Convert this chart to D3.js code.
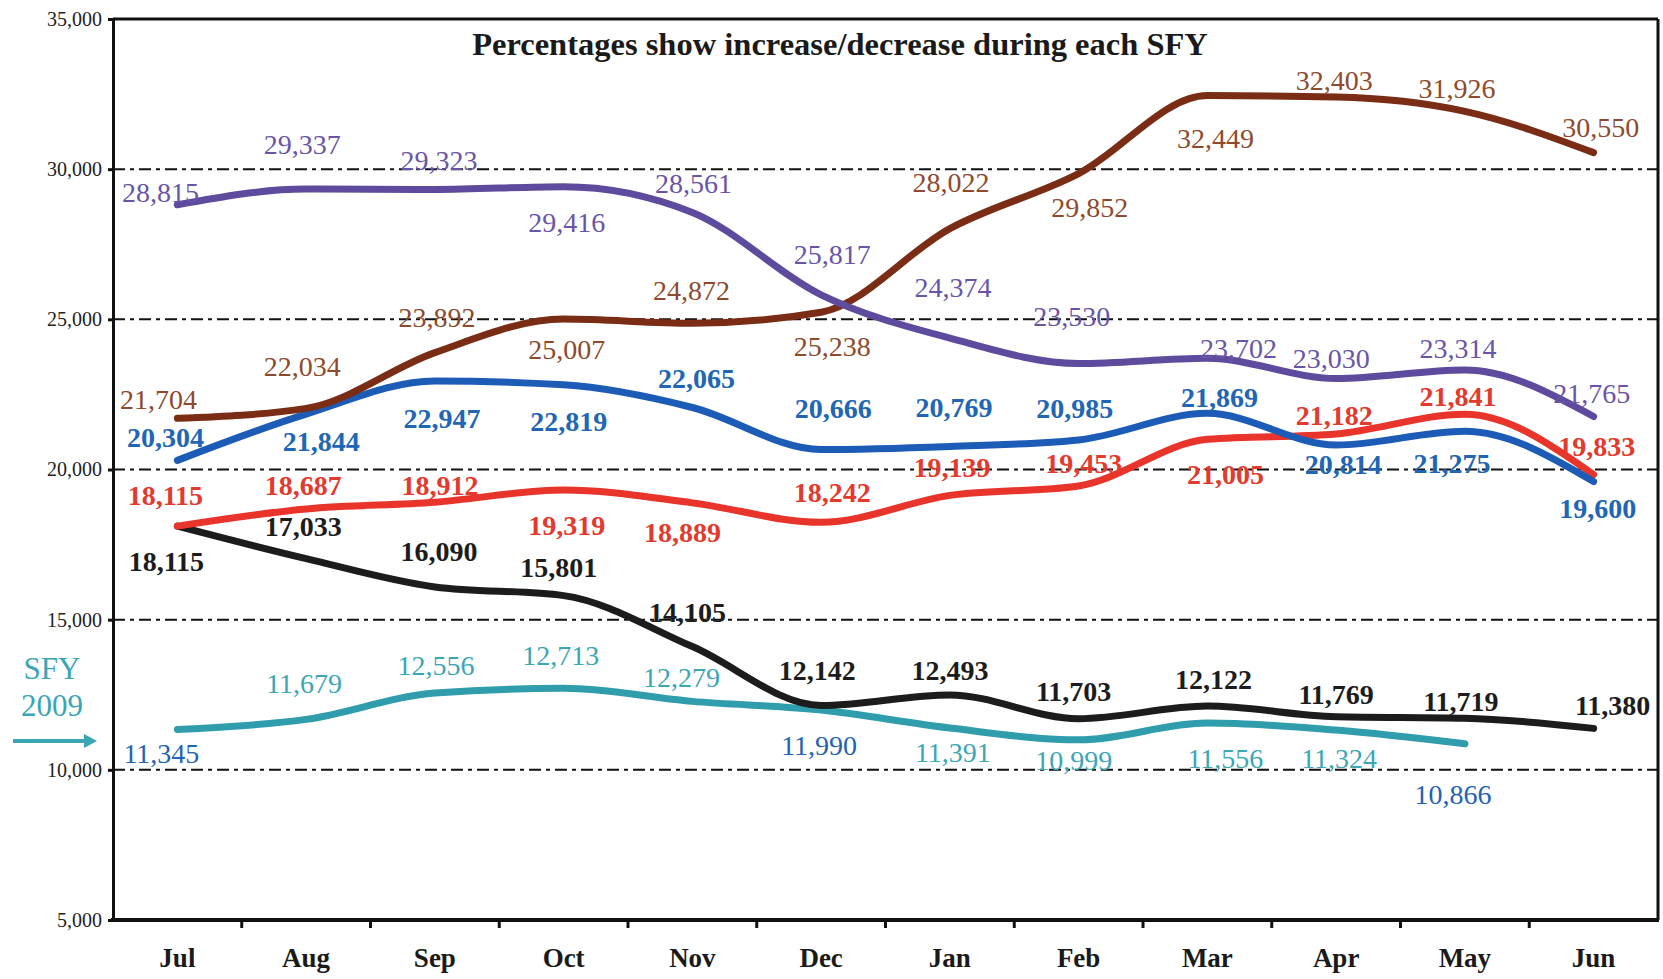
<!DOCTYPE html>
<html>
<head>
<meta charset="utf-8">
<script src="https://cdn.jsdelivr.net/npm/d3@7"></script>
<style>
	body { margin: 0; background: #ffffff; }
	svg { display: block; }
	text { font-family: 'Liberation Serif', 'DejaVu Serif', serif; }
</style>
</head>
<body>
<div id="viz"></div>
<script>
const MONTHS = ['Jul', 'Aug', 'Sep', 'Oct', 'Nov', 'Dec', 'Jan', 'Feb', 'Mar', 'Apr', 'May', 'Jun']
const Y_TICKS = [5000, 10000, 15000, 20000, 25000, 30000, 35000]
const GRID_TICKS = [10000, 15000, 20000, 25000, 30000]

const TITLE = 'Percentages show increase/decrease during each SFY'

// monthly counts, one list per fiscal year line
const sfy_cyan = [11345, 11679, 12556, 12713, 12279, 11990, 11391, 10999, 11556, 11324, 10866]
const sfy_black = [18115, 17033, 16090, 15801, 14105, 12142, 12493, 11703, 12122, 11769, 11719, 11380]
const sfy_red = [18115, 18687, 18912, 19319, 18889, 18242, 19139, 19453, 21005, 21182, 21841, 19833]
const sfy_blue = [20304, 21844, 22947, 22819, 22065, 20666, 20769, 20985, 21869, 20814, 21275, 19600]
const sfy_brown = [21704, 22034, 23892, 25007, 24872, 25238, 28022, 29852, 32449, 32403, 31926, 30550]
const sfy_purple = [28815, 29337, 29323, 29416, 28561, 25817, 24374, 23530, 23702, 23030, 23314, 21765]

// label placement (pixels, relative to the point)
const series = [
	{
		values: sfy_cyan, line: '#2f9dac', text: '#3ba6b6', weight: 400,
		textAlt: { 0: '#2463b3', 5: '#2463b3', 10: '#2463b3' },
		dx: [-16, -2, 1, -3, -11, -2, 3, -5, 18, 3, -12],
		dy: [24, -36, -28, -33, -24, 35, 24, 20, 35, 28, 50]
	},
	{
		values: sfy_black, line: '#1c1c1c', text: '#1c1c1c', weight: 700,
		dx: [-11, -3, 4, -5, -5, -4, 0, -5, 6, 0, -4, 19],
		dy: [35, -32, -36, -28, -34, -35, -25, -27, -27, -23, -17, -23]
	},
	{
		values: sfy_red, line: '#e8342a', text: '#e33a2e', weight: 700,
		dx: [-12, -3, 5, 3, -10, 11, 2, 5, 18, -2, -7, 3],
		dy: [-31, -24, -17, 35, 29, -30, -28, -23, 35, -19, -18, -28]
	},
	{
		values: sfy_blue, line: '#1d5cb6', text: '#2166b5', weight: 700,
		dx: [-12, 15, 7, 5, 4, 12, 4, -4, 12, 7, -13, 4],
		dy: [-23, 27, 37, 36, -29, -41, -39, -32, -16, 19, 32, 27]
	},
	{
		values: sfy_brown, line: '#7a2d14', text: '#8e4a2c', weight: 400,
		dx: [-19, -4, 2, 3, -1, 11, 1, 11, 8, -2, -8, 7],
		dy: [-19, -42, -35, 30, -33, 34, -46, 34, 43, -17, -23, -25]
	},
	{
		values: sfy_purple, line: '#5f4b9e', text: '#6955a8', weight: 400,
		dx: [-17, -4, 4, 3, 1, 11, 3, -7, 31, -5, -7, -2],
		dy: [-13, -45, -29, 35, -29, -41, -51, -47, -10, -20, -22, -23]
	}
]

const WIDTH = 1663
const HEIGHT = 979
const LEFT = 113
const RIGHT = 1658
const TOP = 19
const BOTTOM = 920

const svg = d3
	.select('#viz')
	.append('svg')
	.attr('width', WIDTH)
	.attr('height', HEIGHT)

const x = d3.scaleBand().domain(MONTHS).range([LEFT, RIGHT]).padding(0)
const cx = (i) => x(MONTHS[i]) + x.bandwidth() / 2
const y = d3.scaleLinear().domain([5000, 35000]).range([BOTTOM, TOP])

// dashed grid
svg.append('g')
	.selectAll('line')
	.data(GRID_TICKS)
	.enter()
	.append('line')
	.attr('x1', LEFT)
	.attr('x2', RIGHT)
	.attr('y1', (d) => y(d))
	.attr('y2', (d) => y(d))
	.attr('stroke', '#111')
	.attr('stroke-width', 2)
	.attr('stroke-dasharray', '12 5 4 5')

// frame: top and right
svg.append('line')
	.attr('x1', LEFT).attr('x2', RIGHT)
	.attr('y1', y(35000)).attr('y2', y(35000))
	.attr('stroke', '#111').attr('stroke-width', 3)
svg.append('line')
	.attr('x1', RIGHT).attr('x2', RIGHT)
	.attr('y1', y(35000)).attr('y2', BOTTOM)
	.attr('stroke', '#111').attr('stroke-width', 3)

// y axis
const yAxis = svg
	.append('g')
	.attr('transform', `translate(${LEFT},0)`)
	.call(d3.axisLeft(y).tickValues(Y_TICKS).tickFormat(d3.format(',')).tickSize(5).tickPadding(6))
yAxis.select('.domain').attr('stroke', '#111').attr('stroke-width', 3)
yAxis.selectAll('.tick line').attr('stroke', '#111').attr('stroke-width', 3)
yAxis.selectAll('.tick text')
	.attr('font-family', "'Liberation Serif', serif")
	.attr('font-size', 20)
	.attr('fill', '#222')

// x axis, ticks sit between months
svg.append('line')
	.attr('x1', LEFT - 2).attr('x2', RIGHT + 1)
	.attr('y1', BOTTOM).attr('y2', BOTTOM)
	.attr('stroke', '#111').attr('stroke-width', 4)
svg.append('g')
	.selectAll('line')
	.data(MONTHS.slice(1))
	.enter()
	.append('line')
	.attr('x1', (d) => x(d))
	.attr('x2', (d) => x(d))
	.attr('y1', BOTTOM)
	.attr('y2', BOTTOM + 8)
	.attr('stroke', '#111')
	.attr('stroke-width', 3)
svg.append('g')
	.selectAll('text')
	.data(MONTHS)
	.enter()
	.append('text')
	.attr('x', (d, i) => cx(i))
	.attr('y', 967)
	.attr('text-anchor', 'middle')
	.attr('font-size', 27)
	.attr('font-weight', 700)
	.attr('fill', '#1a1a1a')
	.text((d) => d)

// title
svg.append('text')
	.attr('x', 840)
	.attr('y', 55)
	.attr('text-anchor', 'middle')
	.attr('font-size', 32.5)
	.attr('font-weight', 700)
	.attr('fill', '#1a1a1a')
	.text(TITLE)

// lines
const line = d3
	.line()
	.x((d, i) => cx(i))
	.y((d) => y(d))
	.curve(d3.curveMonotoneX)

for (let s of series) {
	svg.append('path')
		.datum(s.values)
		.attr('d', line)
		.attr('fill', 'none')
		.attr('stroke', s.line)
		.attr('stroke-width', 7)
		.attr('stroke-linejoin', 'round')
		.attr('stroke-linecap', 'round')
}

for (let s of series) {
	svg.append('g')
		.selectAll('text')
		.data(s.values)
		.enter()
		.append('text')
		.attr('x', (d, i) => cx(i) + s.dx[i])
		.attr('y', (d, i) => y(d) + s.dy[i])
		.attr('dy', '0.35em')
		.attr('text-anchor', 'middle')
		.attr('font-size', 28)
		.attr('font-weight', s.weight)
		.attr('fill', (d, i) => (s.textAlt && s.textAlt[i]) || s.text)
		.text((d) => d3.format(',')(d))
}

// SFY 2009 marker
svg.append('text')
	.attr('x', 52).attr('y', 679)
	.attr('text-anchor', 'middle')
	.attr('font-size', 31)
	.attr('fill', '#3aa5b5')
	.text('SFY')
svg.append('text')
	.attr('x', 52).attr('y', 716)
	.attr('text-anchor', 'middle')
	.attr('font-size', 31)
	.attr('fill', '#3aa5b5')
	.text('2009')
svg.append('line')
	.attr('x1', 13).attr('x2', 86)
	.attr('y1', 741).attr('y2', 741)
	.attr('stroke', '#3aa5b5').attr('stroke-width', 4)
svg.append('path')
	.attr('d', 'M84,734 L97,741 L84,748 Z')
	.attr('fill', '#3aa5b5')
</script>
</body>
</html>
